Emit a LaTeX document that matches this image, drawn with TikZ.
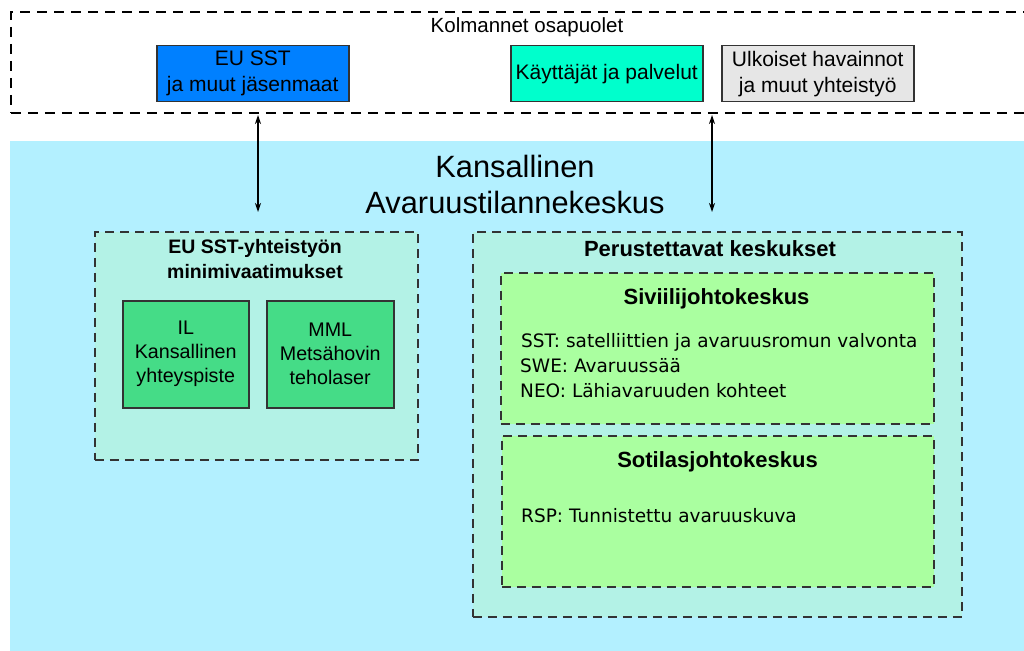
\documentclass[tikz,border=0pt]{standalone}
\usepackage{fontspec}
\setmainfont{Liberation Sans}
\newfontfamily\dejavu{DejaVu Sans}
\usetikzlibrary{arrows.meta}
\definecolor{eublue}{HTML}{0080FF}
\definecolor{usercyan}{HTML}{00FFCC}
\definecolor{extgray}{HTML}{E6E6E6}
\definecolor{natblue}{HTML}{B3F0FF}
\definecolor{mint}{HTML}{B3F2E6}
\definecolor{greenbox}{HTML}{45DC87}
\definecolor{lgreen}{HTML}{AAFFA0}
\definecolor{edge}{HTML}{333333}
\newcommand\fsz[2]{\fontsize{#1}{#2}\selectfont}
\begin{document}
\begin{tikzpicture}[x=1pt,y=-1pt,
  solidbox/.style={draw=edge,line width=1.5pt,inner sep=0pt,align=center,anchor=north west},
  dbox/.style={draw=edge,line width=1.5pt,dash pattern=on 9pt off 6pt,inner sep=0pt,anchor=north west},
  topdash/.style={draw=black,line width=1.6pt,dash pattern=on 10pt off 7pt,inner sep=0pt,anchor=north west},
  twoway/.style={{Stealth[length=9pt,width=6pt]}-{Stealth[length=9pt,width=6pt]},line width=1.3pt},
  txt/.style={inner sep=0pt,align=center},
  bigtxt/.style={font=\fsz{21}{26}},
  midtxt/.style={font=\fsz{19.7}{24}},
  headtxt/.style={font=\bfseries\fsz{22}{25}},
  listtxt/.style={inner sep=0pt,anchor=base west,font=\dejavu\fsz{18.5}{25}},
]
\useasboundingbox (0,0) rectangle (1024,650);
\clip (0,0) rectangle (1024,650);
\fill[white] (0,0) rectangle (1024,650);

% national centre background
\node[fill=natblue,minimum width=1030pt,minimum height=520pt,inner sep=0pt,anchor=north west] (natl) at (10,141) {};

% third parties
\node[topdash,minimum width=1030pt,minimum height=101pt] (third) at (10,11) {};
\node[txt,anchor=base,font=\fsz{20.5}{24}] (thirdlbl) at (527,33) {Kolmannet osapuolet};
\node[solidbox,fill=eublue,minimum width=192pt,minimum height=56pt,bigtxt] (eusst) at (156,45) {EU SST\\ja muut jäsenmaat};
\node[solidbox,fill=usercyan,minimum width=192pt,minimum height=56pt,bigtxt] (users) at (510,45) {Käyttäjät ja palvelut};
\node[solidbox,fill=extgray,minimum width=192pt,minimum height=56pt,bigtxt] (ext) at (721,45) {Ulkoiset havainnot\\ja muut yhteistyö};

% title
\node[txt,font=\fsz{30.8}{36}] (title) at (515,184) {Kansallinen\\Avaruustilannekeskus};

% arrows
\coordinate (a1top) at (258,115);
\coordinate (a1bot) at (258,212);
\coordinate (a2top) at (712,115);
\coordinate (a2bot) at (712,212);
\draw[twoway] (a1top) -- (a1bot);
\draw[twoway] (a2top) -- (a2bot);

% minimum requirements
\node[dbox,fill=mint,minimum width=323pt,minimum height=228pt] (minreq) at (94,231) {};
\node[txt,font=\bfseries\fsz{19.5}{25}] (minreqlbl) at (255,259.5) {EU SST-yhteistyön\\minimivaatimukset};
\node[solidbox,fill=greenbox,minimum width=126pt,minimum height=107pt,midtxt] (il) at (122,300) {IL\\Kansallinen\\yhteyspiste};
\node[solidbox,fill=greenbox,minimum width=127pt,minimum height=107pt,midtxt] (mml) at (266,300) {MML\\Metsähovin\\teholaser};

% centres to be established
\node[dbox,fill=mint,minimum width=489pt,minimum height=385pt] (centres) at (472,231) {};
\node[txt,anchor=base,headtxt] (centreslbl) at (710,256) {Perustettavat keskukset};

\node[dbox,fill=lgreen,minimum width=433pt,minimum height=151pt] (civ) at (500,272) {};
\node[txt,anchor=base,headtxt] (civlbl) at (716.5,304) {Siviilijohtokeskus};
\node[listtxt] (sst) at (521,347) {SST: satelliittien ja avaruusromun valvonta};
\node[listtxt] (swe) at (520,372) {SWE: Avaruussää};
\node[listtxt] (neo) at (520,397) {NEO: Lähiavaruuden kohteet};

\node[dbox,fill=lgreen,minimum width=432pt,minimum height=151pt] (mil) at (501,435) {};
\node[txt,anchor=base,headtxt] (millbl) at (717.5,467) {Sotilasjohtokeskus};
\node[listtxt] (rsp) at (521,522) {RSP: Tunnistettu avaruuskuva};
\end{tikzpicture}
\end{document}
